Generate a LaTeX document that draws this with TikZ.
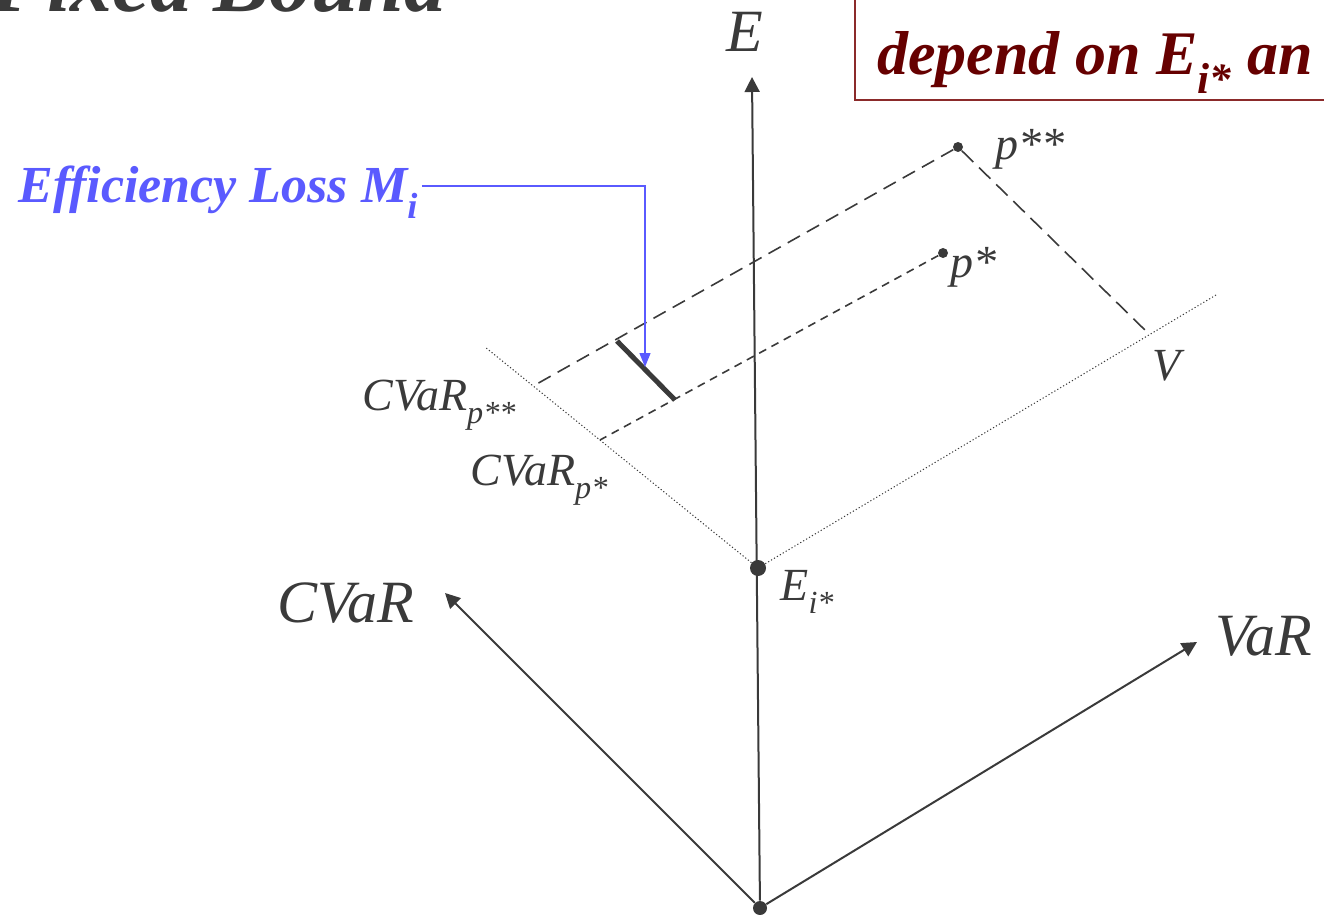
\documentclass[tikz,border=0pt]{standalone}
\usepackage{fontspec}
\setmainfont{Liberation Serif}[ItalicFont={* Italic},BoldFont={* Bold},BoldItalicFont={* Bold Italic}]
\usetikzlibrary{arrows.meta}
\definecolor{ink}{HTML}{3A3A3A}
\definecolor{lossblue}{HTML}{5A5AFF}
\definecolor{boxred}{HTML}{8B2A2A}
\definecolor{deepred}{HTML}{660000}
\newcommand{\lowsub}[1]{\raisebox{-0.3em}{\scalebox{0.7}{#1}}}
\begin{document}
\begin{tikzpicture}[x=0.5pt,y=-0.5pt,
  every node/.style={text=ink,font=\itshape,inner sep=0pt},
  axis/.style={draw=ink,line width=1pt,-{Triangle[length=7.5pt,width=7.5pt]}},
  level/.style={draw=ink,line width=0.5pt,dash pattern=on 0.6pt off 1.1pt},
  dot/.style={circle,fill=ink,inner sep=0pt,minimum size=#1},
  big/.style={font=\itshape\fontsize{30}{34}\selectfont},
  mid/.style={font=\itshape\fontsize{23}{27}\selectfont}]
  \clip (0,0) rectangle (1324,915);
  % title and note, cut by the page
  \node[anchor=base east,font=\bfseries\itshape\fontsize{42}{48}\selectfont] (title) at (447,12) {Fixed Bound};
  \draw[boxred,line width=1pt] (855,-20) rectangle (1420,100);
  \node[anchor=base west,text=deepred,font=\bfseries\itshape\fontsize{31}{35}\selectfont] (note) at (877,75) {depend on E\lowsub{i*} an};
  % points
  \node[dot=7pt] (O) at (760,908) {};
  \node[dot=8pt] (Ei) at (758,568) {};
  \node[dot=5pt] (pss) at (958,147) {};
  \node[dot=5pt] (ps) at (943,253) {};
  \coordinate (Etop) at (752,77);
  \coordinate (Ctip) at (445,593);
  \coordinate (Vtip) at (1197,642);
  \coordinate (L) at (485,347);
  \coordinate (R) at (1216,295);
  \coordinate (cpss) at (535,385);
  \coordinate (cps) at (600,440);
  \coordinate (V) at (1148,333);
  \coordinate (m1) at (617,341);
  \coordinate (m2) at (675,400);
  \coordinate (mtip) at (645,367);
  % axes
  \draw[axis] (O) -- (Etop);
  \draw[axis] (O) -- (Ctip);
  \draw[axis] (O) -- (Vtip);
  % level lines through E_i*
  \draw[level] (Ei) -- (L);
  \draw[level] (Ei) -- (R);
  % projections
  \draw[ink,line width=0.8pt,dash pattern=on 7pt off 4pt] (pss) -- (cpss);
  \draw[ink,line width=0.8pt,dash pattern=on 8pt off 4pt] (pss) -- (V);
  \draw[ink,line width=0.8pt,dash pattern=on 4pt off 3pt] (ps) -- (cps);
  \draw[ink,line width=2.5pt] (m1) -- (m2);
  % efficiency loss
  \node[anchor=base west,text=lossblue,font=\bfseries\itshape\fontsize{26}{30}\selectfont] (loss) at (18,203) {Efficiency Loss M\lowsub{i}};
  \draw[lossblue,line width=0.7pt,-{Triangle[length=7pt,width=5.5pt]}] ([xshift=2pt,yshift=8.5pt]loss.base east) -| (mtip);
  % labels
  \node[big,anchor=base west] (Elab) at (726,52) {E};
  \node[big,anchor=base west] (Clab) at (277,622) {CVaR};
  \node[big,anchor=base west] (Vlab) at (1215,655) {VaR};
  \node[mid,anchor=base west] (Eilab) at (780,600) {E\lowsub{i*}};
  \node[mid,anchor=base west] (psslab) at (995,160) {p**};
  \node[mid,anchor=base west] (pslab) at (950,278) {p*};
  \node[mid,anchor=base west] (Vpt) at (1152,380) {V};
  \node[mid,anchor=base west] (cpsslab) at (362,410) {CVaR\lowsub{p**}};
  \node[mid,anchor=base west] (cpslab) at (470,485) {CVaR\lowsub{p*}};
\end{tikzpicture}
\end{document}
